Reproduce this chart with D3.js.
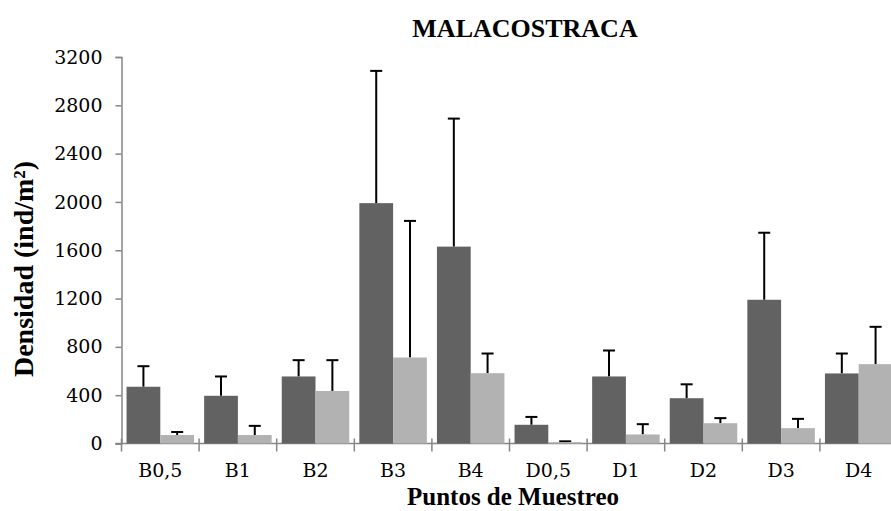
<!DOCTYPE html>
<html>
<head>
<meta charset="utf-8">
<script src="https://cdn.jsdelivr.net/npm/d3@7"></script>
<style>
   body { margin: 0; background: #fff; }
   svg { display: block; }
</style>
</head>
<body>
<div id="chart"></div>
<script>
const puntos = ['B0,5', 'B1', 'B2', 'B3', 'B4', 'D0,5', 'D1', 'D2', 'D3', 'D4'];
const series = ['serie1', 'serie2'];
const densidad1 = [470, 395, 555, 1990, 1630, 155, 555, 375, 1190, 580];
const error1 = [170, 160, 135, 1095, 1060, 65, 215, 115, 555, 165];
const densidad2 = [70, 70, 435, 712, 582, 10, 75, 168, 127, 657];
const error2 = [25, 76, 255, 1131, 163, 8, 85, 42, 77, 309];
const yTicks = [0, 400, 800, 1200, 1600, 2000, 2400, 2800, 3200];

class Chart {
   constructor(parentElem) {
      this.parentElem = parentElem;

      this.initVis();
   }

   initVis() {
      this.width = 891;
      this.height = 511;
      this.colors = { serie1: '#626262', serie2: '#b2b2b2' };
      this.tickFont = '"DejaVu Serif", serif';
      this.titleFont = '"Liberation Serif", serif';

      this.data = puntos.map((p, i) => ({
         punto: p,
         values: [
            { serie: 'serie1', value: densidad1[i], err: error1[i] },
            { serie: 'serie2', value: densidad2[i], err: error2[i] }
         ]
      }));

      this.svg = d3.select(this.parentElem).append('svg')
                     .attr('width', this.width)
                     .attr('height', this.height);

      this.x0 = d3.scaleBand()
                  .domain(puntos)
                  .range([121.5, 897.5])
                  .paddingInner(0.13)
                  .paddingOuter(0.065);

      this.x1 = d3.scaleBand()
                  .domain(series)
                  .range([0, this.x0.bandwidth()]);

      this.y = d3.scaleLinear()
                  .domain([0, 3200])
                  .range([443.5, 57]);

      this.drawAxes();
      this.drawBars();
      this.drawLabels();
   }

   drawAxes() {
      const yAxisCall = d3.axisLeft(this.y)
                           .tickValues(yTicks)
                           .tickSize(6)
                           .tickPadding(13)
                           .tickFormat(d => d);

      const yAxis = this.svg.append('g')
         .attr('class', 'y axis')
         .attr('transform', 'translate(121.5, 0)')
         .call(yAxisCall);

      yAxis.select('.domain').attr('stroke', '#868686').attr('stroke-width', 1.5);
      yAxis.selectAll('.tick line').attr('stroke', '#868686').attr('stroke-width', 1.5);
      yAxis.selectAll('.tick text')
         .attr('font-family', this.tickFont)
         .attr('font-size', 19)
         .attr('fill', '#000');

      // category boundaries, excel style cross ticks
      const bounds = puntos.map(p => this.x0(p) - this.x0.step() * this.x0.paddingOuter());

      const xAxis = this.svg.append('g').attr('class', 'x axis');

      xAxis.append('line')
         .attr('x1', this.x0.range()[0] - 6)
         .attr('x2', this.width)
         .attr('y1', this.y(0))
         .attr('y2', this.y(0))
         .attr('stroke', '#868686')
         .attr('stroke-width', 1.5);

      xAxis.selectAll('.bound')
         .data(bounds)
         .enter()
         .append('line')
            .attr('class', 'bound')
            .attr('x1', d => d)
            .attr('x2', d => d)
            .attr('y1', this.y(0) - 5)
            .attr('y2', this.y(0) + 8)
            .attr('stroke', '#868686')
            .attr('stroke-width', 1.5);

      xAxis.selectAll('.cat')
         .data(puntos)
         .enter()
         .append('text')
            .attr('class', 'cat')
            .attr('x', d => this.x0(d) + this.x0.bandwidth() / 2)
            .attr('y', 477)
            .attr('text-anchor', 'middle')
            .attr('font-family', this.tickFont)
            .attr('font-size', 19)
            .text(d => d);
   }

   drawBars() {
      const groups = this.svg.selectAll('.grupo')
                        .data(this.data)
                        .enter()
                        .append('g')
                           .attr('class', 'grupo')
                           .attr('transform', d => `translate(${this.x0(d.punto)}, 0)`);

      const bars = groups.selectAll('.barra')
                        .data(d => d.values)
                        .enter()
                        .append('g')
                           .attr('class', 'barra');

      bars.append('line')
         .attr('x1', d => this.x1(d.serie) + this.x1.bandwidth() / 2)
         .attr('x2', d => this.x1(d.serie) + this.x1.bandwidth() / 2)
         .attr('y1', d => this.y(d.value))
         .attr('y2', d => this.y(d.value + d.err))
         .attr('stroke', '#000')
         .attr('stroke-width', 2);

      bars.append('line')
         .attr('x1', d => this.x1(d.serie) + this.x1.bandwidth() / 2 - 6)
         .attr('x2', d => this.x1(d.serie) + this.x1.bandwidth() / 2 + 6)
         .attr('y1', d => this.y(d.value + d.err))
         .attr('y2', d => this.y(d.value + d.err))
         .attr('stroke', '#000')
         .attr('stroke-width', 2);

      bars.append('rect')
         .attr('x', d => this.x1(d.serie))
         .attr('y', d => this.y(d.value))
         .attr('width', this.x1.bandwidth())
         .attr('height', d => this.y(0) - this.y(d.value))
         .attr('fill', d => this.colors[d.serie]);
   }

   drawLabels() {
      this.svg.append('text')
         .attr('x', 525)
         .attr('y', 37)
         .attr('text-anchor', 'middle')
         .attr('font-family', this.titleFont)
         .attr('font-size', 26)
         .attr('font-weight', 'bold')
         .text('MALACOSTRACA');

      this.svg.append('text')
         .attr('x', 513)
         .attr('y', 505)
         .attr('text-anchor', 'middle')
         .attr('font-family', this.titleFont)
         .attr('font-size', 25)
         .attr('font-weight', 'bold')
         .text('Puntos de Muestreo');

      this.svg.append('text')
         .attr('transform', 'translate(33, 269) rotate(-90)')
         .attr('text-anchor', 'middle')
         .attr('font-family', this.titleFont)
         .attr('font-size', 28)
         .attr('font-weight', 'bold')
         .text('Densidad (ind/m²)');
   }
}

new Chart(document.getElementById('chart'));
</script>
</body>
</html>
